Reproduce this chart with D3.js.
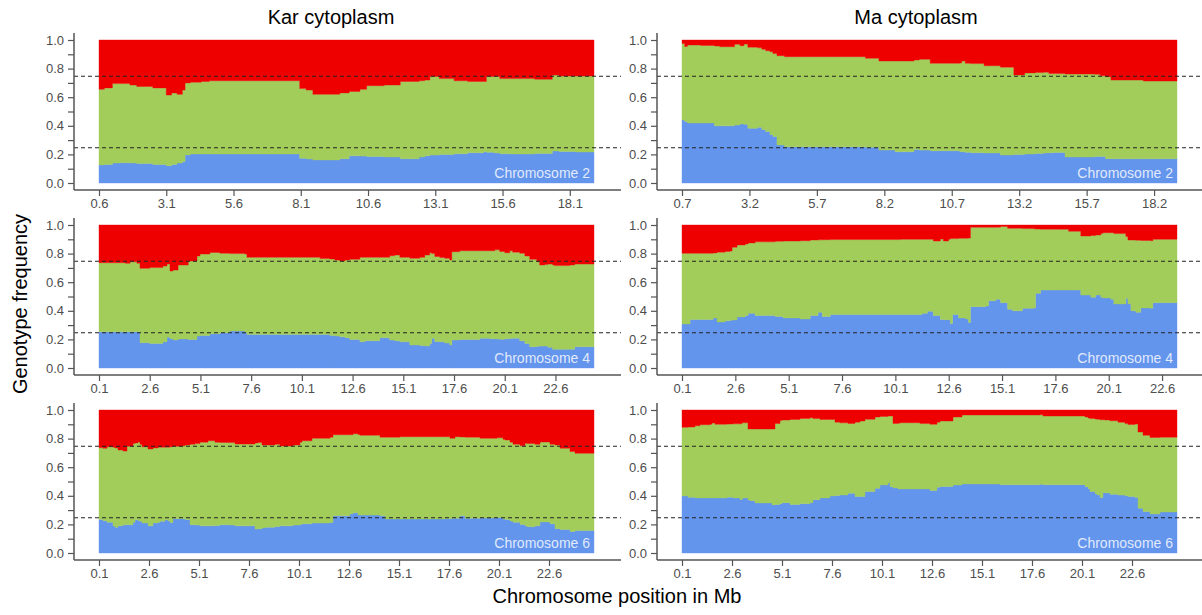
<!DOCTYPE html>
<html>
<head>
<meta charset="utf-8">
<script src="https://cdn.jsdelivr.net/npm/d3@7"></script>
<style>
body { margin: 0; background: #fff; }
svg { font-family: "Liberation Sans", Arial, Helvetica, sans-serif; }
</style>
</head>
<body>
<svg width="1202" height="615"></svg>
<script>
// column titles, chromosome names
var cytoplasms = ["Kar cytoplasm", "Ma cytoplasm"]
var chromosomes = ["Chromosome 2", "Chromosome 4", "Chromosome 6"]
var yTicks = [0, 0.1, 0.2, 0.3, 0.4, 0.5, 0.6, 0.7, 0.8, 0.9, 1.0]
var refLines = [0.25, 0.75]

// x tick labels
var kar2Ticks = [0.6, 3.1, 5.6, 8.1, 10.6, 13.1, 15.6, 18.1]
var ma2Ticks = [0.7, 3.2, 5.7, 8.2, 10.7, 13.2, 15.7, 18.2]
var chr4Ticks = [0.1, 2.6, 5.1, 7.6, 10.1, 12.6, 15.1, 17.6, 20.1, 22.6]
var chr6Ticks = [0.1, 2.6, 5.1, 7.6, 10.1, 12.6, 15.1, 17.6, 20.1, 22.6]

// Kar cytoplasm, chromosome 2 (pos in Mb, upper edge of blue, upper edge of green)
var kar2Pos = [0.6, 0.8, 1.1, 1.4, 1.75, 2.0, 2.6, 3.1, 3.3, 3.5, 3.7, 3.8, 4.0, 4.4, 4.7, 8.0, 8.06, 8.3, 8.55, 9.55, 9.9, 10.3, 10.55, 11.2, 11.8, 12.5, 12.7, 12.9, 13.25, 13.8, 14.3, 14.9, 15.0, 15.3, 15.5, 15.85, 16.8, 17.45, 17.7, 18.3, 19.0]
var kar2Blue = [0.126, 0.13, 0.14, 0.142, 0.14, 0.137, 0.13, 0.121, 0.13, 0.14, 0.15, 0.196, 0.203, 0.203, 0.203, 0.203, 0.173, 0.168, 0.161, 0.17, 0.19, 0.188, 0.185, 0.182, 0.17, 0.182, 0.19, 0.195, 0.2, 0.205, 0.212, 0.219, 0.215, 0.21, 0.205, 0.203, 0.207, 0.224, 0.22, 0.217, 0.217]
var kar2Green = [0.655, 0.665, 0.695, 0.695, 0.685, 0.675, 0.665, 0.615, 0.63, 0.62, 0.65, 0.70, 0.705, 0.71, 0.715, 0.715, 0.66, 0.65, 0.62, 0.63, 0.64, 0.655, 0.68, 0.685, 0.71, 0.715, 0.72, 0.745, 0.73, 0.715, 0.71, 0.71, 0.745, 0.745, 0.73, 0.73, 0.725, 0.755, 0.748, 0.748, 0.748]

// Ma cytoplasm, chromosome 2
var ma2Pos = [0.7, 0.8, 0.9, 1.4, 1.9, 2.1, 2.65, 2.85, 3.0, 3.14, 3.5, 3.66, 3.8, 3.96, 4.07, 4.22, 4.5, 7.5, 8.0, 8.6, 9.3, 9.5, 9.9, 11.0, 11.07, 11.2, 11.4, 11.9, 12.5, 13.0, 13.4, 13.8, 14.1, 14.3, 14.5, 14.9, 16.0, 16.2, 16.4, 16.6, 17.8, 19.05]
var ma2Blue = [0.44, 0.43, 0.42, 0.42, 0.40, 0.40, 0.405, 0.413, 0.41, 0.382, 0.39, 0.375, 0.36, 0.34, 0.325, 0.266, 0.254, 0.25, 0.231, 0.219, 0.235, 0.23, 0.226, 0.219, 0.219, 0.215, 0.212, 0.21, 0.196, 0.2, 0.203, 0.207, 0.21, 0.212, 0.214, 0.182, 0.186, 0.186, 0.17, 0.17, 0.17, 0.17]
var ma2Green = [0.975, 0.955, 0.965, 0.962, 0.958, 0.953, 0.97, 0.96, 0.972, 0.95, 0.945, 0.935, 0.925, 0.918, 0.905, 0.89, 0.883, 0.872, 0.853, 0.853, 0.86, 0.865, 0.837, 0.84, 0.853, 0.837, 0.835, 0.82, 0.81, 0.755, 0.77, 0.772, 0.775, 0.765, 0.765, 0.762, 0.76, 0.75, 0.743, 0.72, 0.713, 0.713]

// Kar cytoplasm, chromosome 4
var kar4Pos = [0.1, 1.4, 1.63, 1.97, 2.12, 2.6, 3.25, 3.45, 3.6, 3.75, 4.0, 4.5, 4.93, 5.08, 5.57, 6.06, 6.55, 7.29, 7.39, 11.0, 11.48, 11.73, 11.97, 12.22, 12.46, 12.96, 13.2, 13.94, 14.43, 14.68, 14.93, 15.42, 15.91, 16.16, 16.4, 16.5, 16.65, 16.9, 17.14, 17.39, 17.49, 17.88, 18.87, 19.36, 19.61, 19.85, 20.1, 20.35, 20.49, 20.84, 21.09, 21.33, 21.68, 21.82, 22.07, 22.22, 22.46, 22.56, 23.3, 23.55, 24.5]
var kar4Blue = [0.254, 0.254, 0.254, 0.254, 0.177, 0.172, 0.184, 0.215, 0.205, 0.196, 0.203, 0.2, 0.224, 0.228, 0.24, 0.247, 0.259, 0.25, 0.235, 0.235, 0.228, 0.224, 0.218, 0.212, 0.2, 0.184, 0.191, 0.212, 0.196, 0.19, 0.184, 0.161, 0.158, 0.154, 0.172, 0.208, 0.185, 0.184, 0.175, 0.161, 0.196, 0.2, 0.208, 0.205, 0.203, 0.201, 0.205, 0.207, 0.208, 0.19, 0.172, 0.149, 0.152, 0.153, 0.154, 0.145, 0.131, 0.131, 0.131, 0.149, 0.149]
var kar4Green = [0.736, 0.732, 0.743, 0.732, 0.697, 0.702, 0.713, 0.727, 0.678, 0.685, 0.72, 0.748, 0.783, 0.797, 0.808, 0.802, 0.80, 0.797, 0.774, 0.765, 0.762, 0.755, 0.748, 0.755, 0.76, 0.774, 0.774, 0.774, 0.785, 0.79, 0.774, 0.767, 0.774, 0.79, 0.806, 0.80, 0.78, 0.772, 0.767, 0.755, 0.813, 0.82, 0.82, 0.82, 0.827, 0.815, 0.806, 0.82, 0.81, 0.802, 0.783, 0.76, 0.743, 0.72, 0.723, 0.727, 0.72, 0.716, 0.72, 0.727, 0.727]

// Ma cytoplasm, chromosome 4
var ma4Pos = [0.1, 0.48, 1.18, 1.56, 1.74, 2.12, 2.35, 2.45, 2.68, 3.06, 3.2, 3.53, 4.47, 4.84, 5.45, 5.64, 6.11, 6.48, 6.67, 7.05, 10.33, 11.36, 11.6, 11.88, 12.21, 12.35, 12.59, 12.68, 12.78, 13.06, 13.39, 13.53, 13.62, 14.33, 14.47, 14.8, 15.03, 15.36, 15.59, 16.06, 16.58, 16.67, 16.91, 17.75, 18.22, 18.79, 19.26, 19.49, 19.73, 19.82, 20.2, 20.34, 20.9, 21.0, 21.14, 21.37, 21.6, 22.07, 22.17, 23.3]
var ma4Blue = [0.308, 0.34, 0.34, 0.35, 0.322, 0.33, 0.334, 0.336, 0.357, 0.368, 0.382, 0.368, 0.361, 0.35, 0.35, 0.343, 0.368, 0.389, 0.361, 0.375, 0.375, 0.382, 0.396, 0.368, 0.34, 0.338, 0.336, 0.312, 0.375, 0.35, 0.343, 0.318, 0.429, 0.433, 0.47, 0.48, 0.457, 0.41, 0.40, 0.417, 0.42, 0.522, 0.545, 0.545, 0.545, 0.51, 0.494, 0.51, 0.494, 0.49, 0.48, 0.448, 0.487, 0.45, 0.40, 0.39, 0.42, 0.417, 0.457, 0.457]
var ma4Green = [0.802, 0.802, 0.802, 0.805, 0.81, 0.815, 0.818, 0.844, 0.86, 0.867, 0.875, 0.882, 0.886, 0.888, 0.888, 0.89, 0.895, 0.896, 0.897, 0.898, 0.9, 0.9, 0.9, 0.888, 0.902, 0.888, 0.9, 0.905, 0.905, 0.907, 0.908, 0.909, 0.984, 0.984, 0.984, 0.985, 0.99, 0.977, 0.977, 0.975, 0.973, 0.972, 0.971, 0.97, 0.956, 0.923, 0.926, 0.93, 0.94, 0.946, 0.946, 0.94, 0.92, 0.895, 0.895, 0.893, 0.892, 0.89, 0.9, 0.9]

// Kar cytoplasm, chromosome 6
var kar6Pos = [0.1, 0.3, 0.5, 0.8, 0.9, 1.05, 1.3, 1.5, 1.8, 1.9, 2.05, 2.15, 2.25, 2.55, 2.8, 3.05, 3.15, 3.4, 3.55, 3.65, 3.8, 4.3, 4.4, 4.65, 4.9, 5.15, 5.55, 5.9, 6.15, 6.65, 6.9, 7.9, 8.05, 8.25, 8.4, 8.9, 9.15, 9.8, 10.15, 10.25, 10.75, 11.65, 11.8, 12.65, 12.8, 13.05, 13.15, 14.15, 14.4, 15.15, 17.4, 17.65, 17.9, 18.15, 18.4, 19.15, 20.0, 20.3, 20.4, 20.65, 20.8, 21.15, 21.4, 21.5, 21.9, 22.15, 22.65, 22.9, 23.15, 23.65, 23.9, 24.85]
var kar6Blue = [0.235, 0.226, 0.215, 0.19, 0.18, 0.19, 0.198, 0.198, 0.215, 0.233, 0.228, 0.222, 0.21, 0.19, 0.21, 0.215, 0.222, 0.233, 0.225, 0.214, 0.24, 0.24, 0.235, 0.198, 0.195, 0.19, 0.19, 0.192, 0.198, 0.195, 0.19, 0.167, 0.17, 0.175, 0.18, 0.185, 0.19, 0.195, 0.2, 0.205, 0.21, 0.214, 0.26, 0.275, 0.282, 0.265, 0.265, 0.26, 0.238, 0.238, 0.24, 0.242, 0.243, 0.26, 0.243, 0.245, 0.248, 0.238, 0.235, 0.224, 0.215, 0.2, 0.19, 0.184, 0.19, 0.217, 0.205, 0.17, 0.165, 0.151, 0.158, 0.158]
var kar6Green = [0.736, 0.732, 0.743, 0.74, 0.735, 0.72, 0.713, 0.746, 0.765, 0.77, 0.776, 0.76, 0.743, 0.727, 0.735, 0.74, 0.74, 0.74, 0.74, 0.743, 0.746, 0.75, 0.755, 0.76, 0.765, 0.775, 0.785, 0.774, 0.773, 0.772, 0.762, 0.77, 0.772, 0.755, 0.755, 0.76, 0.748, 0.755, 0.775, 0.785, 0.802, 0.81, 0.827, 0.827, 0.834, 0.828, 0.823, 0.81, 0.81, 0.813, 0.813, 0.802, 0.813, 0.812, 0.81, 0.802, 0.806, 0.795, 0.79, 0.775, 0.76, 0.75, 0.767, 0.765, 0.76, 0.776, 0.76, 0.755, 0.732, 0.71, 0.697, 0.697]

// Ma cytoplasm, chromosome 6
var ma6Pos = [0.1, 0.4, 0.75, 1.0, 1.5, 1.6, 1.75, 2.35, 2.65, 3.0, 3.1, 3.15, 3.4, 3.5, 3.75, 4.6, 4.75, 5.0, 5.1, 5.5, 6.0, 6.5, 6.65, 7.0, 7.5, 7.75, 8.0, 8.4, 8.75, 9.0, 9.25, 9.75, 10.0, 10.4, 10.5, 10.65, 10.9, 11.0, 12.0, 12.5, 12.85, 13.0, 13.65, 14.1, 16.0, 18.0, 18.15, 20.25, 20.4, 20.5, 20.75, 20.85, 21.0, 21.15, 21.25, 21.5, 21.9, 22.25, 22.4, 22.75, 22.9, 23.15, 23.5, 24.0, 24.85]
var ma6Blue = [0.399, 0.39, 0.385, 0.385, 0.385, 0.385, 0.385, 0.39, 0.385, 0.373, 0.38, 0.385, 0.37, 0.366, 0.35, 0.336, 0.34, 0.345, 0.352, 0.34, 0.345, 0.352, 0.373, 0.385, 0.399, 0.402, 0.406, 0.418, 0.395, 0.395, 0.43, 0.453, 0.476, 0.49, 0.464, 0.455, 0.448, 0.448, 0.448, 0.437, 0.46, 0.465, 0.475, 0.483, 0.478, 0.48, 0.478, 0.464, 0.45, 0.43, 0.415, 0.406, 0.388, 0.423, 0.42, 0.411, 0.405, 0.4, 0.395, 0.388, 0.313, 0.29, 0.273, 0.287, 0.287]
var ma6Green = [0.879, 0.881, 0.89, 0.897, 0.9, 0.909, 0.9, 0.902, 0.903, 0.904, 0.911, 0.911, 0.867, 0.867, 0.867, 0.867, 0.906, 0.927, 0.93, 0.934, 0.941, 0.946, 0.94, 0.934, 0.934, 0.915, 0.91, 0.906, 0.915, 0.923, 0.935, 0.951, 0.955, 0.958, 0.958, 0.906, 0.908, 0.911, 0.905, 0.9, 0.915, 0.923, 0.951, 0.965, 0.965, 0.967, 0.958, 0.951, 0.944, 0.94, 0.937, 0.935, 0.932, 0.931, 0.93, 0.925, 0.914, 0.905, 0.898, 0.902, 0.846, 0.823, 0.808, 0.81, 0.816]

var colors = {blue: "#6495ED", green: "#A2CD5A", red: "#EE0000"}

// panel layout
var cols = [{axisL: 74, dataL: 99, dataR: 594, axisR: 621},
            {axisL: 657, dataL: 682, dataR: 1177, axisR: 1204}]
var rows = [{top: 40, bottom: 183, xAxis: 190},
            {top: 225, bottom: 368, xAxis: 375},
            {top: 410, bottom: 553, xAxis: 560}]

//zip the arrays into rows for one panel
var makePanel = function(pos, blue, green, ticks)
{
    var data = pos.map(function(p, i) { return {pos: p, blue: blue[i], green: green[i]} })
    return {rows: data, ticks: ticks}
}

var panels = [
    [makePanel(kar2Pos, kar2Blue, kar2Green, kar2Ticks), makePanel(ma2Pos, ma2Blue, ma2Green, ma2Ticks)],
    [makePanel(kar4Pos, kar4Blue, kar4Green, chr4Ticks), makePanel(ma4Pos, ma4Blue, ma4Green, chr4Ticks)],
    [makePanel(kar6Pos, kar6Blue, kar6Green, chr6Ticks), makePanel(ma6Pos, ma6Blue, ma6Green, chr6Ticks)]
]

var svg = d3.select("svg")

var drawPanel = function(panel, row, col, chrName)
{
    var data = panel.rows
    var xScale = d3.scaleLinear()
        .domain([data[0].pos, data[data.length - 1].pos])
        .range([col.dataL, col.dataR])
    var yScale = d3.scaleLinear()
        .domain([0, 1])
        .range([row.bottom, row.top])

    var g = svg.append("g")

    var layers = [
        {color: colors.blue, lo: function(d) { return 0 }, hi: function(d) { return d.blue }},
        {color: colors.green, lo: function(d) { return d.blue }, hi: function(d) { return d.green }},
        {color: colors.red, lo: function(d) { return d.green }, hi: function(d) { return 1 }}
    ]
    layers.forEach(function(layer)
    {
        var area = d3.area()
            .curve(d3.curveStepAfter)
            .x(function(d) { return xScale(d.pos) })
            .y0(function(d) { return yScale(layer.lo(d)) })
            .y1(function(d) { return yScale(layer.hi(d)) })
        g.append("path")
            .datum(data)
            .attr("fill", layer.color)
            .attr("stroke", layer.color)
            .attr("stroke-width", 0.4)
            .attr("d", area)
    })

    // chromosome label
    g.append("text")
        .attr("x", col.dataR - 4)
        .attr("y", row.bottom - 5)
        .attr("text-anchor", "end")
        .attr("font-size", 14)
        .attr("fill", "rgba(255,255,255,0.82)")
        .text(chrName)

    // dashed reference lines
    g.selectAll(".ref")
        .data(refLines)
        .enter()
        .append("line")
        .attr("x1", col.axisL)
        .attr("x2", col.axisR)
        .attr("y1", function(v) { return yScale(v) + 0.5 })
        .attr("y2", function(v) { return yScale(v) + 0.5 })
        .attr("stroke", "#222")
        .attr("stroke-width", 1)
        .attr("stroke-dasharray", "4,3")

    // y axis
    var yAxis = d3.axisLeft(yScale)
        .tickValues(yTicks)
        .tickSize(6)
        .tickPadding(4)
        .tickFormat(function(v, i) { return i % 2 == 0 ? d3.format(".1f")(v) : "" })
    var ya = g.append("g")
        .attr("transform", "translate(" + col.axisL + ",0)")
        .call(yAxis)
    ya.select(".domain").remove()
    ya.append("line")
        .attr("y1", row.top - 7)
        .attr("y2", row.xAxis)
        .attr("stroke", "#555")
        .attr("stroke-width", 1.5)

    // x axis
    var xAxis = d3.axisBottom(xScale)
        .tickValues(panel.ticks)
        .tickSize(6)
        .tickPadding(3)
        .tickFormat(d3.format(".1f"))
    var xa = g.append("g")
        .attr("transform", "translate(0," + row.xAxis + ")")
        .call(xAxis)
    xa.select(".domain").remove()
    xa.append("line")
        .attr("x1", col.axisL)
        .attr("x2", col.axisR)
        .attr("stroke", "#555")
        .attr("stroke-width", 1.5)

    g.selectAll(".tick line").attr("stroke", "#555").attr("stroke-width", 1.2)
    g.selectAll(".tick text")
        .attr("font-size", 13)
        .attr("fill", "#4d4d4d")
        .attr("font-family", "Liberation Sans, Arial, sans-serif")
}

panels.forEach(function(rowPanels, r)
{
    rowPanels.forEach(function(panel, c)
    {
        drawPanel(panel, rows[r], cols[c], chromosomes[r])
    })
})

// column titles
var titleX = [331, 916]
svg.selectAll(".title")
    .data(cytoplasms)
    .enter()
    .append("text")
    .attr("x", function(t, i) { return titleX[i] })
    .attr("y", 24)
    .attr("text-anchor", "middle")
    .attr("font-size", 20)
    .attr("fill", "#000")
    .text(function(t) { return t })

// axis titles
svg.append("text")
    .attr("x", 617)
    .attr("y", 603)
    .attr("text-anchor", "middle")
    .attr("font-size", 20)
    .text("Chromosome position in Mb")

svg.append("text")
    .attr("transform", "translate(27,304) rotate(-90)")
    .attr("text-anchor", "middle")
    .attr("font-size", 20)
    .text("Genotype frequency")
</script>
</body>
</html>
